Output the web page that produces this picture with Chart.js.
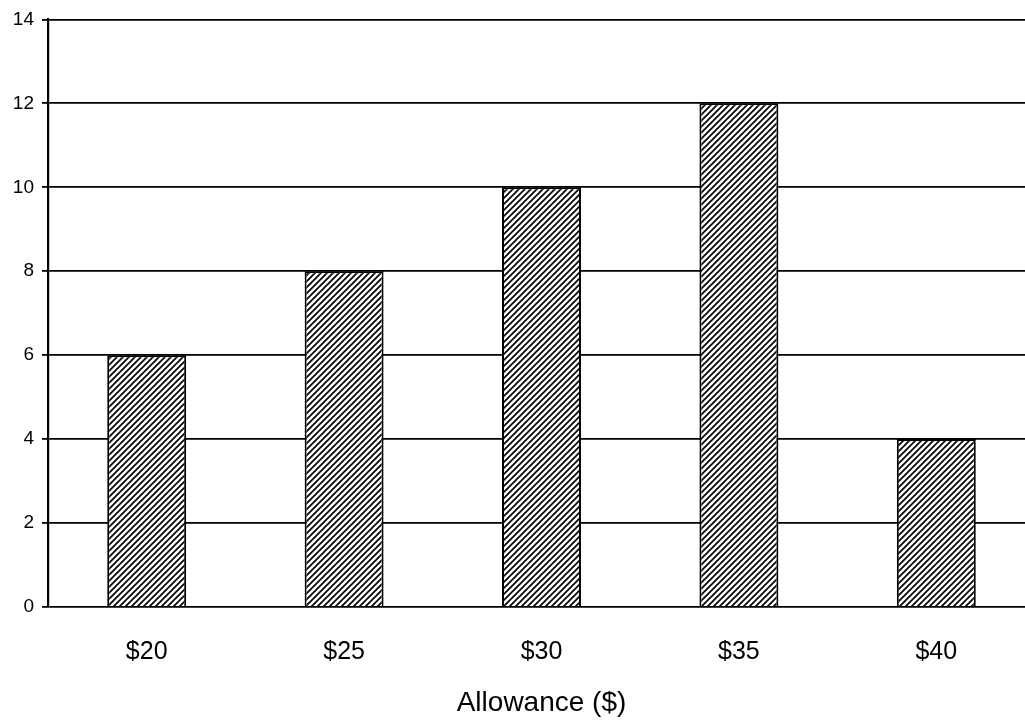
<!DOCTYPE html>
<html>
<head>
<meta charset="utf-8">
<script src="https://cdn.jsdelivr.net/npm/chart.js@4/dist/chart.umd.min.js"></script>
<style>
  html, body { margin: 0; padding: 0; background: #fff; overflow: hidden; }
  #wrap { width: 1035px; height: 724px; }
</style>
</head>
<body>
<div id="wrap"><canvas id="allowanceChart" width="1035" height="724"></canvas></div>
<script>
const allowances = ["$20", "$25", "$30", "$35", "$40"];
const counts = [6, 8, 10, 12, 4];
const yTicks = [0, 2, 4, 6, 8, 10, 12, 14];

// diagonal hatch fill like the scanned bars
function makeHatch() {
    const s = 6;
    const c = document.createElement("canvas");
    c.width = s; c.height = s;
    const g = c.getContext("2d");
    g.fillStyle = "#fff";
    g.fillRect(0, 0, s, s);
    g.strokeStyle = "#000";
    g.lineWidth = 1.7;
    g.beginPath();
    g.moveTo(-1, s + 1); g.lineTo(s + 1, -1);
    g.moveTo(-1, 1); g.lineTo(1, -1);
    g.moveTo(s - 1, s + 1); g.lineTo(s + 1, s - 1);
    g.stroke();
    return g.createPattern(c, "repeat");
}

const ctx = document.getElementById("allowanceChart").getContext("2d");
new Chart(ctx, {
    type: "bar",
    data: {
        labels: allowances,
        datasets: [{
            data: counts,
            backgroundColor: makeHatch(),
            borderColor: "#000",
            borderWidth: 2,
            categoryPercentage: 1,
            barPercentage: 0.4
        }]
    },
    options: {
        responsive: false,
        animation: false,
        layout: { padding: { top: 18, right: 0, bottom: 0, left: 0 } },
        plugins: { legend: { display: false }, tooltip: { enabled: false } },
        scales: {
            x: {
                afterFit: scale => { scale.height = 117; },
                grid: { display: false, drawTicks: false },
                border: { display: false },
                ticks: {
                    color: "#000",
                    padding: 30,
                    font: { family: "Liberation Sans, Arial", size: 25 }
                },
                title: {
                    display: true,
                    text: "Allowance ($)",
                    color: "#000",
                    padding: { top: 0, bottom: 4 },
                    font: { family: "Liberation Sans, Arial", size: 28 }
                }
            },
            y: {
                min: 0,
                max: 14,
                afterBuildTicks: scale => { scale.ticks = yTicks.map(v => ({ value: v })); },
                afterFit: scale => { scale.width = 48; },
                grid: { color: "#000", lineWidth: 1.8, drawTicks: true, tickLength: 6 },
                border: { display: true, color: "#000", width: 2.2 },
                ticks: {
                    color: "#000",
                    padding: 8,
                    font: { family: "Liberation Sans, Arial", size: 19 }
                }
            }
        }
    }
});
</script>
</body>
</html>
